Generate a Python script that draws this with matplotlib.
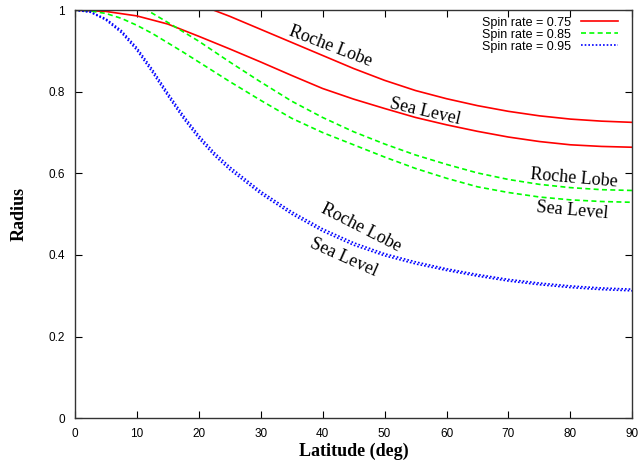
import matplotlib
matplotlib.use("Agg")
import matplotlib.pyplot as plt

# Spin rate 0.75 (red)
red_sea_lat = [0, 5, 10, 15, 20, 25, 30, 35, 40, 45, 50, 55, 60, 65, 70, 75, 80, 85, 90]
red_sea = [1.000, 0.997, 0.986, 0.966, 0.936, 0.905, 0.873, 0.840, 0.808, 0.782,
           0.759, 0.737, 0.719, 0.703, 0.689, 0.678, 0.670, 0.666, 0.664]
red_roche_lat = [20, 25, 30, 35, 40, 45, 50, 55, 60, 65, 70, 75, 80, 85, 90]
red_roche = [1.014, 0.985, 0.953, 0.921, 0.889, 0.857, 0.828, 0.803, 0.783,
             0.766, 0.752, 0.741, 0.733, 0.728, 0.725]

# Spin rate 0.85 (green)
green_sea_lat = [0, 2.5, 5, 7.5, 10, 12.5, 15, 17.5, 20, 25, 30, 35, 40, 45, 50,
                 55, 60, 65, 70, 75, 80, 85, 90]
green_sea = [1.000, 0.998, 0.992, 0.980, 0.963, 0.943, 0.920, 0.897, 0.873, 0.825,
             0.779, 0.735, 0.700, 0.670, 0.640, 0.612, 0.588, 0.567, 0.553, 0.542,
             0.535, 0.531, 0.529]
green_roche_lat = [10, 15, 20, 25, 30, 35, 40, 45, 50, 55, 60, 65, 70, 75, 80, 85, 90]
green_roche = [1.015, 0.970, 0.924, 0.873, 0.824, 0.777, 0.737, 0.702, 0.672,
               0.645, 0.622, 0.601, 0.585, 0.573, 0.565, 0.560, 0.558]

# Spin rate 0.95 (blue)
blue_lat = [0, 2.5, 5, 7.5, 10, 12.5, 15, 17.5, 20, 22.5, 25, 30, 35, 40, 45, 50,
            55, 60, 65, 70, 75, 80, 85, 90]
blue_sea = [1.000, 0.995, 0.976, 0.945, 0.902, 0.848, 0.790, 0.735, 0.686, 0.644,
            0.609, 0.550, 0.500, 0.458, 0.424, 0.398, 0.378, 0.362, 0.348, 0.336,
            0.327, 0.320, 0.315, 0.312]
blue_roche = [1.000, 0.996, 0.979, 0.950, 0.908, 0.855, 0.797, 0.742, 0.693, 0.651,
              0.616, 0.556, 0.506, 0.464, 0.430, 0.403, 0.383, 0.366, 0.352, 0.340,
              0.331, 0.324, 0.319, 0.316]

legend_labels = ["Spin rate = 0.75", "Spin rate = 0.85", "Spin rate = 0.95"]
xticks = [0, 10, 20, 30, 40, 50, 60, 70, 80, 90]
yticks = [0, 0.2, 0.4, 0.6, 0.8, 1]
ytick_labels = ["0", "0.2", "0.4", "0.6", "0.8", "1"]

RED, GREEN, BLUE = "#ff0000", "#00ff00", "#0000ff"

fig = plt.figure(figsize=(6.4, 4.63), dpi=100)
ax = fig.add_axes([0.117, 0.097, 0.871, 0.881])

lw = 1.2
dash = (0, (3, 2))
dot = (0, (1, 1.2))
l1, = ax.plot(red_sea_lat, red_sea, color=RED, lw=lw, ls="-")
ax.plot(red_roche_lat, red_roche, color=RED, lw=lw, ls="-")
l2, = ax.plot(green_sea_lat, green_sea, color=GREEN, lw=lw, ls=dash)
ax.plot(green_roche_lat, green_roche, color=GREEN, lw=lw, ls=dash)
l3, = ax.plot(blue_lat, blue_sea, color=BLUE, lw=lw, ls=dot)
ax.plot(blue_lat, blue_roche, color=BLUE, lw=lw, ls=dot)

ax.set_xlim(0, 90)
ax.set_ylim(0, 1)
ax.set_xticks(xticks)
ax.set_xticklabels([str(t) for t in xticks])
ax.set_yticks(yticks)
ax.set_yticklabels(ytick_labels)
ax.tick_params(direction="in", top=True, right=True, length=5, width=0.8,
               labelsize=8.5)
ax.tick_params(axis="x", pad=7)
ax.tick_params(axis="y", pad=7)
for lab in ax.get_xticklabels() + ax.get_yticklabels():
    lab.set_family("Liberation Sans")
for s in ax.spines.values():
    s.set_linewidth(1.0)
    s.set_color("#333333")

ax.set_xlabel("Latitude (deg)", family="Liberation Serif", fontweight="bold",
              fontsize=13, labelpad=2)
ax.set_ylabel("Radius", family="Liberation Serif", fontweight="bold",
              fontsize=13, labelpad=15)

leg = ax.legend([l1, l2, l3], legend_labels, loc="upper right",
                bbox_to_anchor=(0.975, 0.984), borderaxespad=0, frameon=False,
                markerfirst=False, prop={"family": "Liberation Sans", "size": 9},
                handlelength=3.0, labelspacing=0.0, borderpad=0.0,
                handletextpad=0.8)

tkw = dict(family="Liberation Serif", fontsize=13, ha="center", va="center")
ax.text(41.2, 0.910, "Roche Lobe", rotation=-21, **tkw)
ax.text(56.6, 0.752, "Sea Level", rotation=-13, **tkw)
ax.text(80.5, 0.588, "Roche Lobe", rotation=-5, **tkw)
ax.text(80.3, 0.508, "Sea Level", rotation=-5, **tkw)
ax.text(46.2, 0.466, "Roche Lobe", rotation=-27, **tkw)
ax.text(43.4, 0.394, "Sea Level", rotation=-24, **tkw)

fig.savefig("out.png", dpi=100)
